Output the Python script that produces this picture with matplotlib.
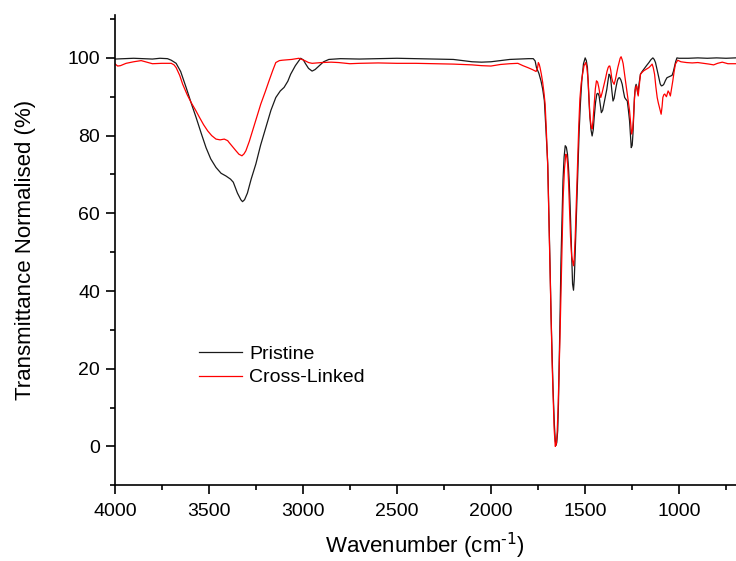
import matplotlib
matplotlib.use("Agg")
import matplotlib.pyplot as plt
from matplotlib.ticker import MultipleLocator

plt.rcParams["font.family"] = ["Liberation Sans", "DejaVu Sans"]
plt.rcParams["mathtext.default"] = "regular"

# Pristine spectrum (wavenumber, % transmittance)
pristine_wn = [
    4000, 3950, 3900, 3850, 3800, 3760, 3720, 3700, 3674, 3650, 3621, 3590, 3568,
    3540, 3515, 3490, 3462, 3435, 3409, 3385, 3370, 3348, 3330, 3321, 3310, 3295,
    3275, 3250, 3225, 3197, 3170, 3144, 3120, 3100, 3080, 3065, 3040, 3012, 2998,
    2986, 2970, 2951, 2935, 2915, 2890, 2862, 2800, 2700, 2600, 2500, 2400, 2300,
    2200, 2150, 2100, 2050, 2000, 1950, 1900, 1850, 1800, 1775, 1765, 1758, 1745,
    1734, 1725, 1716, 1708, 1698, 1692, 1686, 1680, 1676, 1670, 1663, 1658, 1654,
    1650, 1645, 1641, 1637, 1632, 1628, 1622, 1617, 1611, 1605, 1599, 1593, 1588,
    1584, 1579, 1575, 1570, 1566, 1561, 1557, 1554, 1548, 1543, 1537, 1531, 1524,
    1517, 1508, 1499, 1493, 1487, 1481, 1475, 1468, 1462, 1456, 1451, 1444, 1437,
    1431, 1425, 1419, 1413, 1406, 1398, 1391, 1384, 1378, 1372, 1367, 1363, 1357,
    1351, 1345, 1340, 1334, 1328, 1322, 1316, 1309, 1302, 1296, 1289, 1282, 1275,
    1269, 1263, 1258, 1254, 1249, 1245, 1241, 1237, 1232, 1228, 1224, 1219, 1212,
    1205, 1196, 1187, 1173, 1160, 1150, 1139, 1132, 1125, 1117, 1108, 1100, 1094,
    1087, 1081, 1072, 1064, 1050, 1037, 1030, 1025, 1018, 1011, 1000, 950, 900,
    850, 800, 750, 700,
]
pristine_t = [
    99.7, 99.8, 99.9, 99.8, 99.7, 99.9, 99.8, 99.4, 98.6, 96.5, 92.4, 87.8, 84.7,
    80.5, 76.9, 74.0, 71.8, 70.3, 69.6, 68.8, 68.0, 65.2, 63.5, 63.0, 63.5, 65.2,
    68.8, 72.7, 77.5, 82.1, 86.5, 89.8, 91.5, 92.4, 94.0, 95.8, 98.0, 99.9, 99.5,
    98.5, 97.3, 96.6, 97.0, 97.9, 99.0, 99.6, 99.8, 99.7, 99.8, 99.9, 99.8, 99.7,
    99.6, 99.3, 99.0, 98.9, 99.0, 99.3, 99.6, 99.7, 99.8, 99.8, 99.2, 97.5, 96.0,
    94.1, 92.0, 89.0, 82.0, 72.7, 60.0, 47.0, 33.0, 25.5, 15.0, 5.8, 1.5, 0.3,
    1.0, 4.1, 11.0, 21.3, 35.0, 47.0, 59.0, 68.4, 74.5, 77.4, 77.0, 75.2, 72.0,
    68.4, 62.0, 55.5, 48.0, 41.8, 40.2, 43.0, 47.0, 56.0, 64.1, 73.0, 81.2, 88.5,
    94.1, 98.5, 100.0, 99.3, 97.5, 91.5, 85.5, 81.5, 79.9, 81.5, 84.7, 88.5, 90.7,
    90.9, 90.2, 88.0, 85.9, 86.5, 88.5, 90.3, 91.9, 94.0, 95.8, 95.5, 94.5, 91.5,
    88.9, 89.6, 91.1, 92.7, 94.1, 94.8, 94.9, 94.3, 93.2, 91.5, 89.8, 89.3, 88.9,
    86.5, 83.8, 80.0, 76.9, 77.5, 80.4, 85.0, 89.8, 92.5, 93.2, 92.2, 90.7, 93.5,
    95.8, 96.5, 97.1, 98.0, 98.8, 99.5, 100.0, 99.6, 98.8, 97.0, 94.9, 93.3, 92.8,
    92.9, 93.2, 94.2, 94.9, 95.2, 95.5, 96.5, 97.5, 99.0, 100.0, 99.9, 99.9, 100.0,
    99.9, 100.0, 99.9, 100.0,
]

# Cross-linked spectrum
crosslinked_wn = [
    4000, 3985, 3970, 3940, 3900, 3860, 3830, 3800, 3750, 3700, 3685, 3674, 3655,
    3639, 3615, 3594, 3570, 3550, 3528, 3506, 3485, 3462, 3440, 3418, 3400, 3392,
    3375, 3356, 3340, 3324, 3313, 3303, 3285, 3268, 3245, 3224, 3200, 3180, 3160,
    3144, 3125, 3109, 3060, 3021, 2990, 2970, 2951, 2900, 2850, 2810, 2750, 2700,
    2600, 2500, 2400, 2300, 2200, 2100, 2050, 2000, 1950, 1900, 1857, 1830, 1804,
    1780, 1760, 1752, 1748, 1743, 1739, 1732, 1725, 1718, 1712, 1706, 1698, 1692,
    1686, 1680, 1675, 1669, 1664, 1658, 1653, 1648, 1643, 1638, 1633, 1628, 1622,
    1616, 1609, 1602, 1597, 1592, 1587, 1582, 1577, 1571, 1566, 1561, 1557, 1552,
    1546, 1540, 1533, 1527, 1520, 1513, 1505, 1496, 1490, 1483, 1478, 1473, 1467,
    1462, 1457, 1451, 1445, 1439, 1433, 1427, 1421, 1416, 1409, 1402, 1396, 1390,
    1383, 1377, 1372, 1368, 1363, 1358, 1352, 1345, 1338, 1331, 1325, 1319, 1313,
    1308, 1302, 1297, 1292, 1287, 1281, 1275, 1269, 1263, 1257, 1252, 1247, 1243,
    1238, 1234, 1229, 1225, 1221, 1217, 1211, 1205, 1196, 1187, 1173, 1160, 1150,
    1143, 1137, 1130, 1123, 1116, 1110, 1104, 1099, 1095, 1090, 1086, 1081, 1076,
    1067, 1062, 1058, 1052, 1046, 1040, 1033, 1026, 1019, 1007, 990, 960, 930,
    900, 870, 840, 816, 795, 770, 740, 700,
]
crosslinked_t = [
    98.5, 97.9, 98.0, 98.6, 99.0, 99.3, 98.9, 98.5, 98.6, 98.6, 98.2, 97.5, 95.5,
    93.2, 90.5, 88.5, 86.5, 84.7, 82.8, 81.2, 80.0, 79.1, 78.9, 79.1, 78.7, 78.2,
    77.2, 76.1, 75.2, 74.8, 75.3, 76.1, 78.5, 81.2, 84.8, 88.1, 91.3, 94.1, 96.8,
    98.8, 99.3, 99.4, 99.6, 99.9, 99.3, 98.8, 98.6, 98.8, 98.9, 98.8, 98.5, 98.6,
    98.7, 98.6, 98.6, 98.5, 98.4, 98.2, 98.0, 97.9, 98.3, 98.5, 98.6, 98.0, 97.5,
    97.0, 96.5, 97.5, 98.8, 98.3, 97.5, 95.8, 93.7, 91.0, 88.1, 82.0, 72.0, 59.0,
    46.0, 32.0, 22.0, 12.0, 4.5, 0.0, 0.5, 3.5, 10.0, 19.0, 28.0, 38.4, 52.0,
    64.1, 71.5, 75.2, 74.8, 72.5, 67.5, 61.0, 54.0, 49.0, 47.8, 46.5, 48.5, 53.8,
    63.0, 72.7, 82.5, 89.5, 93.5, 95.8, 98.0, 98.8, 97.5, 94.1, 89.0, 84.7, 82.2,
    81.7, 84.0, 88.1, 92.0, 94.1, 93.8, 92.5, 90.8, 89.8, 91.0, 92.4, 93.6, 94.9,
    96.5, 97.5, 97.9, 97.9, 96.8, 94.9, 93.8, 93.2, 94.5, 96.2, 97.6, 98.8, 99.9,
    100.3, 99.5, 98.5, 96.8, 94.9, 92.8, 90.7, 88.8, 86.4, 83.0, 80.4, 81.5, 83.8,
    88.5, 91.5, 92.6, 92.8, 91.5, 90.2, 93.0, 95.8, 96.3, 96.7, 97.1, 97.5, 98.0,
    98.4, 97.5, 95.8, 92.5, 89.8, 88.4, 87.2, 86.3, 85.5, 87.5, 89.8, 90.5, 90.7,
    90.0, 90.8, 91.5, 91.0, 90.2, 92.0, 94.1, 96.5, 98.4, 99.4, 99.0, 98.8, 98.7,
    98.8, 98.6, 98.4, 98.2, 98.6, 98.9, 98.5, 98.5,
]

fig = plt.figure(figsize=(7.36, 5.61), dpi=100)
ax = fig.add_axes([0.156, 0.135, 0.844, 0.838])

ax.plot(pristine_wn, pristine_t, color="#1a1a1a", lw=0.9, label="Pristine")
ax.plot(crosslinked_wn, crosslinked_t, color="red", lw=0.9, label="Cross-Linked")

ax.set_xlim(4000, 697)
ax.set_ylim(-10, 111)
ax.xaxis.set_major_locator(MultipleLocator(500))
ax.xaxis.set_minor_locator(MultipleLocator(250))
ax.yaxis.set_major_locator(MultipleLocator(20))
ax.yaxis.set_minor_locator(MultipleLocator(10))
ax.tick_params(which="major", direction="out", length=6.5, width=1.2,
               labelsize=14, pad=4)
ax.tick_params(axis="x", which="major", pad=6)
ax.tick_params(which="minor", direction="out", length=3.6, width=1.2)

for side in ("top", "right"):
    ax.spines[side].set_visible(False)
for side in ("left", "bottom"):
    ax.spines[side].set_linewidth(1.2)

ax.set_xlabel(r"Wavenumber (cm$^{\text{-1}}$)", fontsize=16, labelpad=8)
ax.set_ylabel("Transmittance Normalised (%)", fontsize=16, labelpad=23)

ax.legend(loc="center left", bbox_to_anchor=(0.108, 0.254), frameon=False,
          fontsize=14, handlelength=2.2, handletextpad=0.35, labelspacing=0.3)

fig.savefig("out.png", dpi=100)
